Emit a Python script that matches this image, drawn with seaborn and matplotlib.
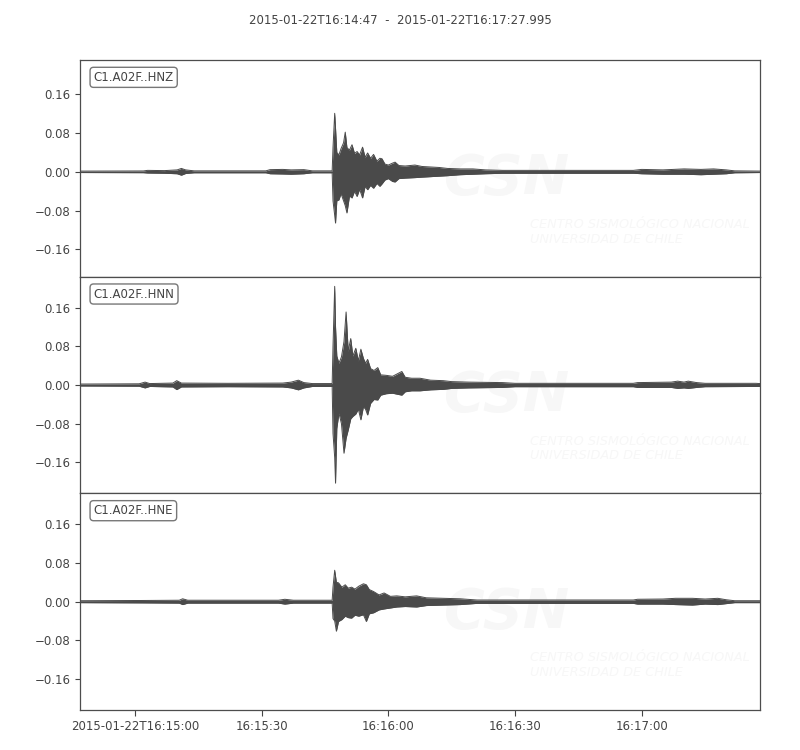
import pandas as pd
import matplotlib
matplotlib.use("Agg")
import matplotlib.pyplot as plt
import matplotlib.dates as mdates
from matplotlib.ticker import MultipleLocator, FuncFormatter
import seaborn as sns

# trace window
start = pd.Timestamp("2015-01-22T16:14:47")
end = pd.Timestamp("2015-01-22T16:17:27.995")
channels = ["C1.A02F..HNZ", "C1.A02F..HNN", "C1.A02F..HNE"]

# envelopes (max / min per time knot), seconds after start
hnz_t = [0, 15, 16, 20, 23, 24, 25, 27, 44, 45, 48, 50, 53, 55, 59.7, 59.9, 60.3, 60.5,
         60.8, 61.3, 61.8, 62.4, 62.8, 63.2, 63.8, 64.4, 65.0, 65.6, 66.2, 66.9, 67.5,
         68.1, 68.8, 69.5, 70.3, 71.0, 71.5, 72.2, 73.0, 74.0, 74.6, 75.5, 77.0, 79.3,
         81.0, 83.0, 85.0, 87.0, 90.0, 93.0, 96.0, 100, 131, 133, 138, 143, 147, 150,
         153, 155, 161]
hnz_max = [0.0015, 0.0018, 0.003, 0.0025, 0.004, 0.007, 0.004, 0.002, 0.002, 0.0045,
           0.005, 0.004, 0.0045, 0.002, 0.002, 0.05, 0.121, 0.09, 0.04, 0.035, 0.048,
           0.06, 0.082, 0.05, 0.045, 0.056, 0.038, 0.042, 0.035, 0.051, 0.03, 0.039,
           0.028, 0.036, 0.022, 0.028, 0.027, 0.016, 0.014, 0.018, 0.02, 0.013, 0.012,
           0.014, 0.011, 0.010, 0.009, 0.007, 0.006, 0.006, 0.004, 0.003, 0.003, 0.005,
           0.004, 0.006, 0.005, 0.006, 0.004, 0.002, 0.0015]
hnz_min = [-0.0015, -0.0018, -0.0025, -0.003, -0.004, -0.007, -0.0035, -0.002, -0.002,
           -0.004, -0.0045, -0.005, -0.004, -0.002, -0.002, -0.06, -0.09, -0.106, -0.06,
           -0.058, -0.045, -0.06, -0.07, -0.085, -0.05, -0.054, -0.04, -0.051, -0.036,
           -0.054, -0.03, -0.037, -0.028, -0.034, -0.024, -0.03, -0.025, -0.017, -0.014,
           -0.02, -0.021, -0.014, -0.013, -0.012, -0.011, -0.010, -0.009, -0.008, -0.006,
           -0.005, -0.004, -0.003, -0.003, -0.004, -0.005, -0.005, -0.006, -0.005, -0.004,
           -0.002, -0.0015]

hnn_t = [0, 14, 15.4, 16.5, 22, 22.9, 24, 35, 48, 50, 51.7, 53, 55, 59.7, 59.9, 60.3,
         60.5, 60.8, 61.3, 61.9, 62.5, 63.0, 63.5, 64.1, 64.6, 65.3, 65.9, 66.5, 67.1,
         67.6, 68.1, 68.8, 69.6, 70.5, 71.2, 72.5, 74.0, 76.2, 77.0, 78.5, 80.5, 83.0,
         86.0, 88.0, 92.0, 100, 103, 131, 132, 140, 141.5, 143, 144, 146, 148, 160, 161]
hnn_max = [0.002, 0.0025, 0.006, 0.003, 0.004, 0.009, 0.004, 0.0035, 0.004, 0.006,
           0.010, 0.005, 0.003, 0.003, 0.08, 0.204, 0.12, 0.06, 0.045, 0.058, 0.09,
           0.151, 0.07, 0.096, 0.06, 0.076, 0.05, 0.074, 0.055, 0.045, 0.053, 0.034,
           0.03, 0.036, 0.021, 0.02, 0.018, 0.028, 0.016, 0.014, 0.014, 0.010, 0.009,
           0.007, 0.006, 0.005, 0.0035, 0.0035, 0.005, 0.006, 0.008, 0.006, 0.008, 0.005,
           0.0035, 0.0035, 0.003]
hnn_min = [-0.002, -0.0025, -0.006, -0.003, -0.004, -0.0095, -0.004, -0.0035, -0.004,
           -0.006, -0.010, -0.006, -0.003, -0.003, -0.10, -0.15, -0.203, -0.09, -0.058,
           -0.08, -0.141, -0.11, -0.093, -0.07, -0.065, -0.06, -0.05, -0.072, -0.045,
           -0.05, -0.062, -0.038, -0.03, -0.031, -0.021, -0.018, -0.017, -0.021, -0.014,
           -0.012, -0.012, -0.010, -0.009, -0.007, -0.006, -0.005, -0.0035, -0.0035,
           -0.005, -0.005, -0.007, -0.006, -0.007, -0.005, -0.0035, -0.003, -0.003]

hne_t = [0, 15, 23.5, 24.3, 25.5, 47, 48.5, 50.5, 59.7, 59.9, 60.3, 60.7, 61.2, 62.0,
         62.8, 63.5, 64.3, 65.1, 66.0, 67.1, 67.8, 68.5, 69.5, 70.8, 72.0, 73.5, 75.0,
         77.0, 79.7, 82, 86, 90, 94, 131, 132, 138, 141, 145, 148, 151, 153, 155, 161]
hne_max = [0.002, 0.0025, 0.003, 0.006, 0.003, 0.003, 0.005, 0.003, 0.003, 0.03, 0.065,
           0.04, 0.039, 0.03, 0.035, 0.028, 0.03, 0.026, 0.032, 0.037, 0.035, 0.025,
           0.021, 0.014, 0.018, 0.011, 0.012, 0.01, 0.012, 0.008, 0.007, 0.006, 0.0035,
           0.0035, 0.005, 0.0055, 0.007, 0.007, 0.0055, 0.007, 0.004, 0.002, 0.002]
hne_min = [-0.002, -0.0025, -0.003, -0.006, -0.003, -0.003, -0.005, -0.003, -0.003,
           -0.035, -0.04, -0.061, -0.041, -0.037, -0.03, -0.033, -0.034, -0.028, -0.03,
           -0.027, -0.041, -0.025, -0.023, -0.017, -0.015, -0.013, -0.011, -0.01, -0.011,
           -0.008, -0.007, -0.006, -0.0035, -0.0035, -0.005, -0.005, -0.006, -0.007,
           -0.005, -0.006, -0.004, -0.002, -0.002]

traces = [(hnz_t, hnz_max, hnz_min), (hnn_t, hnn_max, hnn_min), (hne_t, hne_max, hne_min)]
# y window centre per panel (the Z panel sits slightly higher)
y_centres = [0.0072, 0.0, 0.0]
y_half = 0.224

sns.set_style("ticks")
plt.rcParams["font.family"] = ["DejaVu Sans"]
plt.rcParams["text.color"] = "#444444"
plt.rcParams["xtick.color"] = "#444444"
plt.rcParams["ytick.color"] = "#444444"

wave_color = "#4a4a4a"
mark_color = "#f7f7f7"

fig, axes = plt.subplots(3, 1, sharex=True, figsize=(8, 7.5), dpi=100)
fig.subplots_adjust(left=0.1, right=0.95, top=0.92, bottom=0.0533, hspace=0)

for ax, name, (t, hi, lo), yc in zip(axes, channels, traces, y_centres):
    df = pd.DataFrame({
        "time": start + pd.to_timedelta(t, unit="s"),
        "max": hi,
        "min": lo,
    })
    # faint CSN watermark
    ax.text(0.627, 0.45, "CSN", transform=ax.transAxes, fontsize=40,
            fontstyle="italic", fontweight="bold", color=mark_color,
            ha="center", va="center", zorder=0, clip_on=True)
    ax.text(0.662, 0.207, "CENTRO SISMOLÓGICO NACIONAL\nUNIVERSIDAD DE CHILE",
            transform=ax.transAxes, fontsize=9.3, fontstyle="italic",
            color=mark_color, ha="left", va="center", linespacing=1.15,
            zorder=0, clip_on=True)

    ax.fill_between(df["time"], df["min"], df["max"], color=wave_color, lw=0, zorder=2)
    sns.lineplot(data=df, x="time", y="max", ax=ax, color=wave_color, lw=0.7, zorder=3)
    sns.lineplot(data=df, x="time", y="min", ax=ax, color=wave_color, lw=0.7, zorder=3)

    ax.set_xlim(start, end)
    ax.set_ylim(yc - y_half, yc + y_half)
    ax.yaxis.set_major_locator(MultipleLocator(0.08))
    ax.set_xlabel("")
    ax.set_ylabel("")
    ax.tick_params(axis="y", labelsize=8.5, length=3.5, width=0.8, color="#444444")
    for s in ax.spines.values():
        s.set_color("#4d4d4d")
        s.set_linewidth(0.9)
    ax.text(0.02, 0.95, name, transform=ax.transAxes, fontsize=8.5, va="top", ha="left",
            bbox=dict(boxstyle="round,pad=0.3", fc="white", ec="#777777", lw=1.0),
            zorder=5)


def fmt_time(x, pos):
    d = mdates.num2date(x)
    if pos == 0:
        return d.strftime("%Y-%m-%dT%H:%M:%S")
    return d.strftime("%H:%M:%S")


bottom = axes[-1]
bottom.xaxis.set_major_locator(mdates.SecondLocator(bysecond=[0, 30]))
bottom.xaxis.set_major_formatter(FuncFormatter(fmt_time))
for ax in axes[:-1]:
    ax.tick_params(axis="x", bottom=False, labelbottom=False)
bottom.tick_params(axis="x", labelsize=8.5, length=4, width=0.8, color="#444444")

fig.text(0.5, 1 - 20 / 750, f"{start.isoformat()}  -  {end.isoformat()[:-3]}",
         ha="center", va="center", fontsize=8.5)

fig.savefig("out.png", dpi=100)
